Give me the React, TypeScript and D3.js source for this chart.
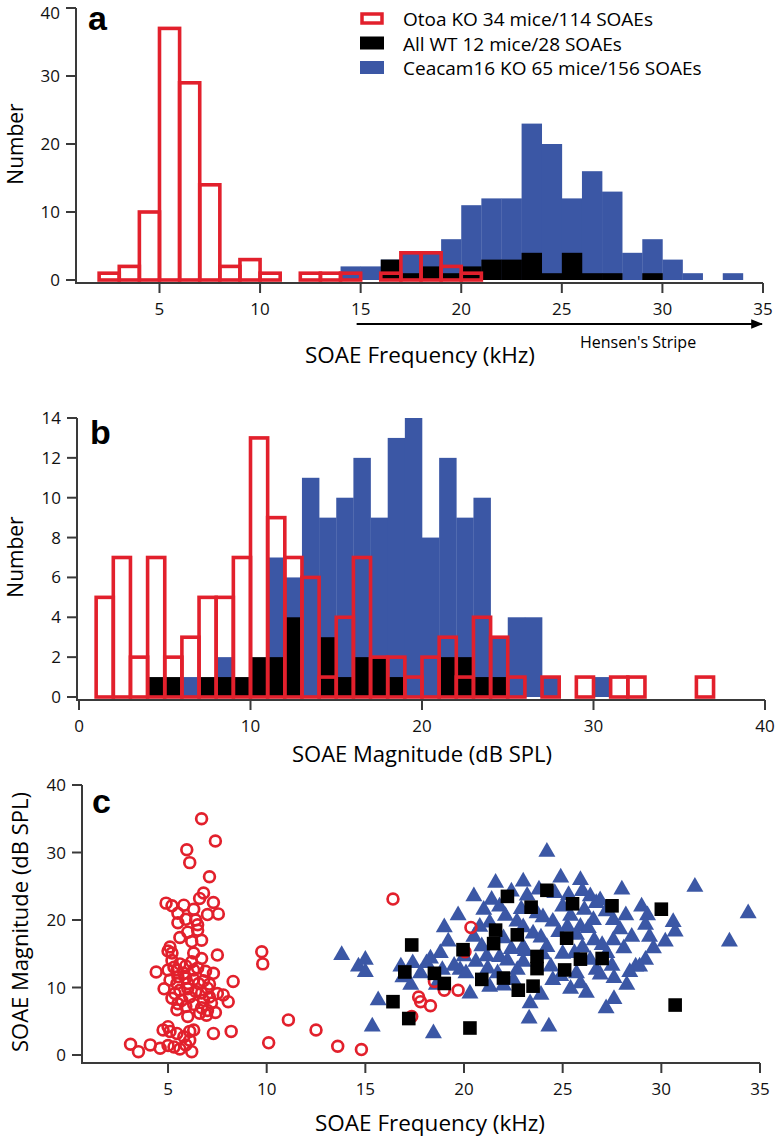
import React from 'react';
import * as d3 from 'd3';

const RED = '#e2202c';
const BLUE = '#3b57a5';
const BLACK = '#000000';
const AXIS = '#3a3a3a';
const FONT = "'Open Sans', 'DejaVu Sans', sans-serif";
const BOLD = "'Liberation Sans', Arial, sans-serif";

// ---------- Panel a: SOAE frequency histogram (1 kHz bins, values by bin start) ----------
const aRedStart = 2;
const aRedCounts = [1, 2, 10, 37, 29, 14, 2, 3, 1, 0, 1, 1, 1, 0, 1, 4, 4, 2, 1];
const aBlueStart = 14;
const aBlueCounts = [2, 2, 3, 4, 4, 6, 11, 12, 12, 23, 20, 12, 16, 13, 4, 6, 3, 1, 0, 1];
const aBlackStart = 16;
const aBlackCounts = [3, 1, 2, 1, 2, 3, 3, 4, 1, 4, 1, 1, 0, 1];
const aYTicks = [0, 10, 20, 30, 40];
const aXTicks = [5, 10, 15, 20, 25, 30, 35];

// ---------- Panel b: SOAE magnitude histogram (1 dB bins) ----------
const bRedStart = 1;
const bRedCounts = [5, 7, 2, 7, 2, 3, 5, 5, 7, 13, 9, 7, 6, 1, 4, 7, 2, 2, 1, 2, 3, 1, 4, 3, 1, 0, 1, 0, 1, 0, 1, 1, 0, 0, 0, 1];
const bBlueStart = 6;
const bBlueCounts = [1, 0, 2, 0, 0, 7, 6, 11, 9, 10, 12, 9, 13, 14, 8, 12, 9, 10, 3, 4, 4, 1, 0, 0, 1];
const bBlackStart = 4;
const bBlackCounts = [1, 1, 0, 1, 1, 1, 2, 2, 4, 0, 3, 1, 2, 2, 1, 0, 0, 2, 2, 1, 1];
const bYTicks = [0, 2, 4, 6, 8, 10, 12, 14];
const bXTicks = [0, 10, 20, 30, 40];

// ---------- Panel c: magnitude vs frequency [kHz, dB SPL] ----------
const otoaPoints: [number, number][] = [
  [6.7, 35.0], [7.4, 31.7], [5.95, 30.4], [6.1, 28.5], [7.1, 26.4], [6.8, 24.0], [6.6, 23.2], [7.3, 22.6],
  [4.9, 22.5], [5.2, 22.1], [5.8, 22.2], [7.55, 20.9], [7.0, 20.8], [6.4, 20.0], [5.5, 19.6], [5.9, 20.1],
  [6.5, 19.3], [5.1, 16.0], [5.2, 15.1], [6.2, 16.8], [6.7, 17.0], [7.5, 14.8], [9.75, 15.3], [9.8, 13.5],
  [6.7, 14.3], [6.3, 15.1], [4.4, 12.3], [5.0, 12.6], [5.45, 12.6], [5.8, 12.1], [6.3, 12.6], [7.3, 12.1],
  [8.3, 10.9], [5.1, 11.1], [5.45, 10.6], [6.0, 10.6], [6.55, 10.6], [7.0, 9.9], [7.5, 9.1], [7.8, 8.9],
  [8.05, 7.9], [5.35, 9.1], [5.7, 8.1], [6.1, 8.6], [6.8, 8.1], [7.2, 7.7], [5.45, 6.7], [6.0, 5.7],
  [6.6, 6.2], [6.95, 5.9], [7.4, 6.3], [4.75, 3.7], [5.1, 3.5], [6.3, 3.7], [7.3, 3.2], [8.2, 3.5],
  [11.1, 5.2], [12.5, 3.7], [3.1, 1.6], [3.5, 0.5], [4.1, 1.5], [4.6, 1.0], [5.3, 1.2], [5.9, 1.5],
  [6.2, 0.5], [5.45, 3.2], [5.8, 2.7], [10.1, 1.8], [13.6, 1.3], [14.8, 0.8],
  [16.4, 23.1], [20.35, 18.9], [20.05, 15.3], [18.5, 10.9], [19.0, 9.6], [19.7, 9.6], [17.7, 8.6],
  [17.8, 7.9], [18.3, 7.3], [17.35, 5.7],
  [5.3, 13.0], [5.6, 13.5], [5.9, 13.2], [6.2, 13.8], [6.5, 12.9], [6.9, 12.4], [5.5, 11.6], [5.9, 11.4],
  [6.3, 11.2], [6.8, 11.0], [7.1, 10.5], [5.6, 9.6], [6.0, 9.8], [6.4, 9.4], [6.7, 9.2], [7.1, 8.6],
  [5.5, 7.6], [5.9, 7.2], [6.3, 7.5], [6.7, 7.0], [7.0, 6.6], [5.2, 14.0], [5.0, 15.4], [6.0, 18.2],
  [6.5, 18.5], [5.6, 17.4], [6.3, 21.6], [5.5, 21.0], [6.1, 2.2], [5.0, 1.4], [5.6, 0.9], [6.1, 3.5],
  [5.0, 4.2], [4.8, 9.8], [5.2, 8.4],
];
const wtPoints: [number, number][] = [
  [24.2, 24.4], [22.2, 23.5], [23.4, 21.9], [25.5, 22.4], [27.5, 22.1], [30.0, 21.6], [21.6, 18.5],
  [22.7, 17.8], [21.5, 16.5], [25.2, 17.3], [17.35, 16.3], [19.95, 15.6], [23.7, 14.6], [25.9, 14.2],
  [27.0, 14.3], [17.0, 12.3], [18.5, 12.1], [23.7, 12.8], [25.1, 12.6], [19.0, 10.6], [20.9, 11.2],
  [22.0, 11.4], [23.5, 10.2], [22.75, 9.6], [16.4, 7.9], [17.2, 5.4], [20.3, 4.0], [30.7, 7.4],
];
const ceacamPoints: [number, number][] = [
  [13.8, 14.8], [14.65, 13.1],
  [24.2, 30.1], [21.6, 25.5], [23.0, 25.7], [24.9, 26.3], [25.9, 25.9], [31.7, 24.9], [34.4, 21.0],
  [33.45, 16.8], [19.7, 20.7], [26.4, 23.5], [26.7, 22.5], [28.2, 20.7], [29.3, 20.7], [29.2, 19.3],
  [29.4, 17.5], [30.6, 19.7], [30.7, 18.3], [28.5, 17.5], [29.2, 14.1], [28.7, 13.1], [28.25, 10.4],
  [27.2, 6.9], [27.6, 11.4], [25.9, 10.6], [24.3, 4.2], [23.3, 5.4], [23.35, 7.65], [18.45, 3.2],
  [15.35, 4.2], [15.65, 8.1], [15.0, 14.1], [15.0, 12.3], [16.8, 13.1], [17.4, 13.6], [18.1, 13.6],
  [18.8, 15.1], [19.2, 16.8], [20.5, 17.5], [19.8, 12.6], [20.1, 12.1], [21.15, 14.6], [21.7, 12.1],
  [21.3, 10.1], [22.2, 14.0], [22.7, 12.6], [24.2, 16.0], [24.4, 13.1], [24.5, 11.1], [25.24, 19.0],
  [25.9, 19.0], [26.6, 17.0], [27.24, 15.1], [27.57, 17.0], [26.56, 20.0], [27.57, 20.0], [23.7, 21.0],
  [24.5, 19.75], [22.68, 19.75], [21.8, 22.0], [23.5, 18.0], [25.0, 22.0], [23.0, 16.0], [25.6, 15.1],
  [26.4, 14.1], [25.7, 12.1], [26.7, 12.6], [17.8, 12.1], [17.3, 10.4], [18.6, 10.4], [20.6, 13.8],
  [22.5, 11.1], [20.3, 9.1], [28.9, 13.1],
  [21.0, 21.5], [21.4, 23.0], [22.4, 24.2], [23.2, 23.6], [23.8, 24.5], [24.6, 24.0], [25.3, 23.7],
  [26.0, 24.3], [26.9, 22.9], [27.2, 21.3], [26.1, 21.5], [25.4, 20.6], [24.0, 20.4], [22.9, 21.6],
  [22.1, 20.6], [21.3, 19.6], [20.8, 19.0], [22.0, 17.3], [23.0, 18.9], [23.9, 17.4], [24.8, 18.2],
  [25.7, 17.8], [26.3, 18.8], [27.9, 18.6], [28.1, 15.8], [27.0, 16.3], [26.0, 15.9], [25.0, 15.0],
  [24.0, 14.9], [23.1, 15.4], [22.4, 15.7], [21.8, 14.5], [20.9, 16.1], [20.0, 14.6], [19.5, 13.2],
  [18.9, 12.6], [18.3, 14.3], [16.9, 11.5], [21.2, 12.8], [22.0, 10.3], [23.0, 13.8], [24.9, 11.7],
  [26.9, 11.9], [27.5, 13.2], [28.4, 12.3], [29.6, 15.8], [25.4, 9.8], [23.9, 8.9], [26.2, 9.2],
  [30.2, 16.8], [29.0, 22.0], [28.0, 24.5], [20.5, 23.5], [19.0, 18.9], [27.6, 8.3],
];
const cYTicks = [0, 10, 20, 30, 40];
const cXTicks = [5, 10, 15, 20, 25, 30, 35];

const legendItems = [
  { label: 'Otoa KO 34 mice/114 SOAEs', kind: 'red' },
  { label: 'All WT 12 mice/28 SOAEs', kind: 'black' },
  { label: 'Ceacam16 KO 65 mice/156 SOAEs', kind: 'blue' },
];

type Scale = d3.ScaleLinear<number, number>;

function Bars({ start, counts, x, y, kind }: { start: number; counts: number[]; x: Scale; y: Scale; kind: string }) {
  return (
    <g>
      {counts.map((c, i) => {
        const k = start + i;
        const x0 = x(k);
        const x1 = x(k + 1);
        const yt = y(c);
        const yb = y(0);
        if (kind === 'red') {
          return (
            <rect key={i} x={x0} y={yt} width={x1 - x0} height={yb - yt} fill="none" stroke={RED} strokeWidth={3.6} />
          );
        }
        if (c === 0) return null;
        return (
          <rect key={i} x={x0} y={yt} width={x1 - x0 + 0.3} height={yb - yt} fill={kind === 'blue' ? BLUE : BLACK} />
        );
      })}
    </g>
  );
}

function Axes({ x, y, xTicks, yTicks, axisX, axisY, xEnd, yTop }: {
  x: Scale; y: Scale; xTicks: number[]; yTicks: number[]; axisX: number; axisY: number; xEnd: number; yTop: number;
}) {
  return (
    <g stroke={AXIS} strokeWidth={2} fill="none">
      <path d={`M${axisX},${yTop}V${axisY}H${xEnd}`} />
      {yTicks.map((t) => (
        <line key={'y' + t} x1={axisX - 10} x2={axisX} y1={y(t)} y2={y(t)} />
      ))}
      {xTicks.map((t) => (
        <line key={'x' + t} x1={x(t)} x2={x(t)} y1={axisY} y2={axisY + 10} />
      ))}
      {yTicks.map((t) => (
        <text key={'yl' + t} x={axisX - 16} y={Math.max(y(t) + 6, 19)} textAnchor="end" fontSize={17} fontFamily={FONT} fill="#111" stroke="none">
          {t}
        </text>
      ))}
      {xTicks.map((t) => (
        <text key={'xl' + t} x={x(t)} y={axisY + 32} textAnchor="middle" fontSize={17} fontFamily={FONT} fill="#111" stroke="none">
          {t}
        </text>
      ))}
    </g>
  );
}

export default function App() {
  // panel a
  const xA = d3.scaleLinear().domain([0.85, 35]).range([76, 763]);
  const yA = d3.scaleLinear().domain([0, 40]).range([280, 8]);
  // panel b
  const xB = d3.scaleLinear().domain([0, 40]).range([79, 765]);
  const yB = d3.scaleLinear().domain([0, 14]).range([697, 418]);
  // panel c
  const xC = d3.scaleLinear().domain([0.64, 35]).range([82, 760]);
  const yC = d3.scaleLinear().domain([0, 40]).range([1055, 785]);

  const tri = d3.symbol().type(d3.symbolTriangle).size(125)() as string;
  const sq = d3.symbol().type(d3.symbolSquare).size(185)() as string;

  return (
    <svg width={776} height={1140} style={{ position: 'absolute', left: 0, top: 0, background: '#fff' }}>
      <rect width={776} height={1140} fill="#fff" />

      {/* ---------- Panel a ---------- */}
      <Bars start={aBlueStart} counts={aBlueCounts} x={xA} y={yA} kind="blue" />
      <Bars start={aBlackStart} counts={aBlackCounts} x={xA} y={yA} kind="black" />
      <Bars start={aRedStart} counts={aRedCounts} x={xA} y={yA} kind="red" />
      <Axes x={xA} y={yA} xTicks={aXTicks} yTicks={aYTicks} axisX={76} axisY={283} xEnd={763} yTop={8} />
      <text x={88} y={30} fontFamily={BOLD} fontWeight="bold" fontSize={34}>a</text>
      <text transform="translate(23,144) rotate(-90)" textAnchor="middle" fontFamily={FONT} fontSize={21}>Number</text>
      <text x={420} y={363} textAnchor="middle" fontFamily={FONT} fontSize={22.5}>SOAE Frequency (kHz)</text>
      <defs>
        <marker id="arr" viewBox="0 0 10 10" refX={9} refY={5} markerWidth={6} markerHeight={6} orient="auto">
          <path d="M0,1L10,5L0,9z" fill="#000" />
        </marker>
      </defs>
      <line x1={xA(14.8)} x2={762} y1={324} y2={324} stroke="#000" strokeWidth={2} markerEnd="url(#arr)" />
      <text x={580} y={348} fontFamily={FONT} fontSize={16}>Hensen's Stripe</text>

      {/* legend */}
      {legendItems.map((it, i) => (
        <g key={it.label}>
          {it.kind === 'red' ? (
            <rect x={362} y={14 + i * 24.5} width={20} height={9} fill="#fff" stroke={RED} strokeWidth={3.5} />
          ) : (
            <rect x={360} y={12 + i * 24.5} width={24} height={13} fill={it.kind === 'blue' ? BLUE : BLACK} />
          )}
          <text x={403} y={26 + i * 24.5} fontFamily={FONT} fontSize={19}>{it.label}</text>
        </g>
      ))}

      {/* ---------- Panel b ---------- */}
      <Bars start={bBlueStart} counts={bBlueCounts} x={xB} y={yB} kind="blue" />
      <Bars start={bBlackStart} counts={bBlackCounts} x={xB} y={yB} kind="black" />
      <Bars start={bRedStart} counts={bRedCounts} x={xB} y={yB} kind="red" />
      <Axes x={xB} y={yB} xTicks={bXTicks} yTicks={bYTicks} axisX={77} axisY={700} xEnd={765} yTop={418} />
      <text x={90} y={444} fontFamily={BOLD} fontWeight="bold" fontSize={34}>b</text>
      <text transform="translate(23,557) rotate(-90)" textAnchor="middle" fontFamily={FONT} fontSize={21}>Number</text>
      <text x={422} y={762} textAnchor="middle" fontFamily={FONT} fontSize={22}>SOAE Magnitude (dB SPL)</text>

      {/* ---------- Panel c ---------- */}
      <g>
        {ceacamPoints.map(([f, m], i) => (
          <path key={'t' + i} d={tri} transform={`translate(${xC(f)},${yC(m)})`} fill={BLUE} />
        ))}
        {otoaPoints.map(([f, m], i) => (
          <circle key={'o' + i} cx={xC(f)} cy={yC(m)} r={5.4} fill="none" stroke={RED} strokeWidth={2.7} />
        ))}
        {wtPoints.map(([f, m], i) => (
          <path key={'s' + i} d={sq} transform={`translate(${xC(f)},${yC(m)})`} fill={BLACK} />
        ))}
      </g>
      <Axes x={xC} y={yC} xTicks={cXTicks} yTicks={cYTicks} axisX={82} axisY={1063} xEnd={760} yTop={785} />
      <text x={92} y={813} fontFamily={BOLD} fontWeight="bold" fontSize={34}>c</text>
      <text transform="translate(28,922) rotate(-90)" textAnchor="middle" fontFamily={FONT} fontSize={22}>SOAE Magnitude (dB SPL)</text>
      <text x={430} y={1131} textAnchor="middle" fontFamily={FONT} fontSize={22.5}>SOAE Frequency (kHz)</text>
    </svg>
  );
}
